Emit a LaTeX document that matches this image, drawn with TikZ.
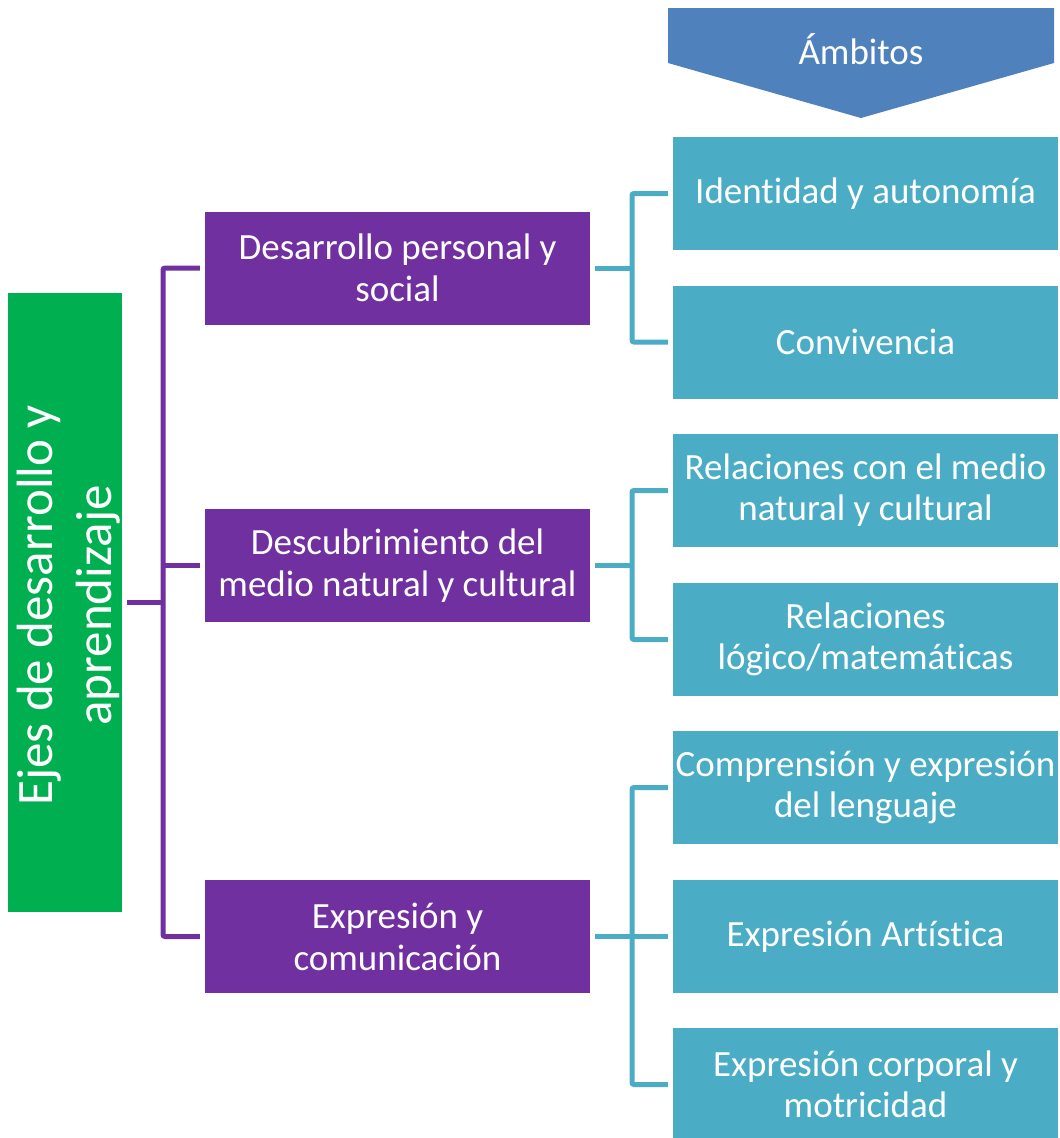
\documentclass[tikz,border=0pt]{standalone}
\usepackage{fontspec}
\setmainfont[Ligatures={NoCommon,NoRequired,NoContextual},Contextuals=NoAlternate]{Carlito}
\newcommand\nlg{\kern0pt }
\definecolor{ejegreen}{HTML}{00B050}
\definecolor{ejepurple}{HTML}{7030A0}
\definecolor{ambteal}{HTML}{4BACC6}
\definecolor{ambblue}{HTML}{4F81BD}
\tikzset{
  pbox/.style={fill=ejepurple, draw=none, text=white, minimum width=385pt, minimum height=113pt, inner sep=0pt, align=center, font=\fontsize{37}{42}\selectfont},
  tbox/.style={fill=ambteal, draw=none, text=white, minimum width=385pt, minimum height=113pt, inner sep=0pt, align=center, font=\fontsize{37}{41}\selectfont},
  gbox/.style={fill=ejegreen, draw=none, text=white, minimum width=114pt, minimum height=619pt, inner sep=0pt},
  pline/.style={draw=ejepurple, line width=5pt, rounded corners=2pt},
  tline/.style={draw=ambteal, line width=5pt, rounded corners=2pt}
}
\begin{document}
\begin{tikzpicture}[x=1pt,y=-1pt]
\useasboundingbox (0,0) rectangle (1060,1138);
% Ambitos arrow
\fill[ambblue] (668,8) -- (1054,8) -- (1054,63) -- (861,118) -- (668,63) -- cycle;
\node[text=white, anchor=base, font=\fontsize{37}{42}\selectfont] (amb) at (861,64) {Ámbitos};
% green
\node[gbox] (g) at (65,602.5) {};
\node[text=white, rotate=90, align=center, font=\fontsize{51}{59}\selectfont] (gt) at ([xshift=4pt,yshift=-3pt]g.center) {Ejes de desarrollo y\\aprendizaje};
% purple
\node[pbox] (p1) at (397.5,268) {Desarrollo personal y\\social};
\node[pbox] (p2) at (397.5,565.5) {Descubrimiento del\\medio natural y cultural};
\node[pbox] (p3) at (397.5,936.5) {Expresión y\\comunicación};
% teal
\node[tbox] (t1) at (865.5,193.5) {Ident\nlg idad y autonomía};
\node[tbox] (t2) at (865.5,342) {Convivencia};
\node[tbox] (t3) at (865.5,490.5) {Relaciones con el medio\\natural y cultural};
\node[tbox] (t4) at (865.5,639.5) {Relaciones\\lógico/matemát\nlg icas};
\node[tbox] (t5) at (865.5,787.5) {Comprensión y expresión\\del lenguaje};
\node[tbox] (t6) at (865.5,936.5) {Expresión Art\nlg ística};
\node[tbox] (t7) at (865.5,1084.5) {Expresión corporal y\\motricidad};
% buses
\coordinate (pb) at (163,0);
\coordinate (tb) at (632,0);
\draw[pline] ([xshift=5pt]g.east) -- (g.east -| pb);
\draw[pline] ([xshift=-5pt]p1.west) -- (p1.west -| pb) -- (p3.west -| pb) -- ([xshift=-5pt]p3.west);
\draw[pline] (p2.west -| pb) -- ([xshift=-5pt]p2.west);
\draw[tline] ([xshift=5pt]p1.east) -- (p1.east -| tb);
\draw[tline] ([xshift=-5pt]t1.west) -- (t1.west -| tb) -- (t2.west -| tb) -- ([xshift=-5pt]t2.west);
\draw[tline] ([xshift=5pt]p2.east) -- (p2.east -| tb);
\draw[tline] ([xshift=-5pt]t3.west) -- (t3.west -| tb) -- (t4.west -| tb) -- ([xshift=-5pt]t4.west);
\draw[tline] ([xshift=5pt]p3.east) -- (p3.east -| tb);
\draw[tline] ([xshift=-5pt]t5.west) -- (t5.west -| tb) -- (t7.west -| tb) -- ([xshift=-5pt]t7.west);
\draw[tline] (t6.west -| tb) -- ([xshift=-5pt]t6.west);
\end{tikzpicture}
\end{document}
